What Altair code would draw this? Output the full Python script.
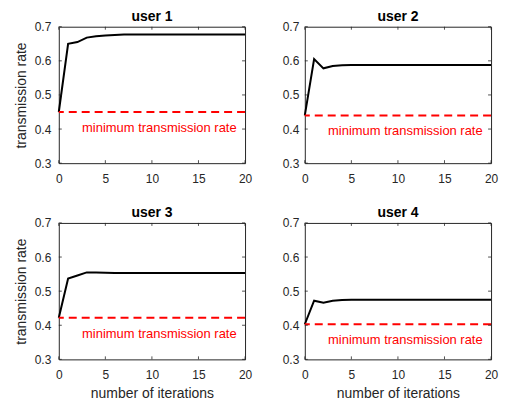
import altair as alt
import pandas as pd

iterations = list(range(0, 21))
user1 = [0.45, 0.650, 0.655, 0.668, 0.672, 0.674, 0.676, 0.677, 0.677, 0.677, 0.677,
         0.677, 0.677, 0.677, 0.677, 0.677, 0.677, 0.677, 0.677, 0.677, 0.677]
user2 = [0.44, 0.605, 0.578, 0.585, 0.587, 0.588, 0.588, 0.588, 0.588, 0.588, 0.588,
         0.588, 0.588, 0.588, 0.588, 0.588, 0.588, 0.588, 0.588, 0.588, 0.588]
user3 = [0.422, 0.537, 0.546, 0.555, 0.555, 0.554, 0.553, 0.553, 0.553, 0.553, 0.553,
         0.553, 0.553, 0.553, 0.553, 0.553, 0.553, 0.553, 0.553, 0.553, 0.553]
user4 = [0.403, 0.472, 0.466, 0.472, 0.474, 0.475, 0.475, 0.475, 0.475, 0.475, 0.475,
         0.475, 0.475, 0.475, 0.475, 0.475, 0.475, 0.475, 0.475, 0.475, 0.475]
min_rates = [0.45, 0.44, 0.422, 0.403]
titles = ["user 1", "user 2", "user 3", "user 4"]
x_ticks = [0, 5, 10, 15, 20]
y_ticks = [0.3, 0.4, 0.5, 0.6, 0.7]
label_text = "minimum transmission rate"

series = [user1, user2, user3, user4]
W, H = 187, 137
FONT = "Liberation Sans"
AX = "#262626"


def panel(i):
    df = pd.DataFrame({"x": iterations, "y": series[i]})
    xs = alt.Scale(domain=[0, 20], nice=False, zero=False)
    ys = alt.Scale(domain=[0.3, 0.7], nice=False, zero=False)
    show_ytitle = i in (0, 2)
    show_xtitle = i in (2, 3)
    xaxis = alt.Axis(values=x_ticks, grid=False, domain=False, ticks=False,
                     labelPadding=10, labelFlush=False, labelOverlap=False,
                     title="number of iterations" if show_xtitle else None,
                     titlePadding=6)
    yaxis = alt.Axis(values=y_ticks, grid=False, domain=False, ticks=False, format=".1f",
                     labelPadding=8 if show_ytitle else 6, labelFlush=False, labelOverlap=False,
                     title="transmission rate" if show_ytitle else None,
                     titlePadding=6)
    X = lambda f: alt.X(f, scale=xs, axis=xaxis)
    Y = lambda f: alt.Y(f, scale=ys, axis=yaxis)
    line = alt.Chart(df).mark_line(color="black", strokeWidth=2).encode(
        x=X("x:Q"), y=Y("y:Q"),
    )
    mdf = pd.DataFrame({"y": [min_rates[i]], "t": [label_text], "xl": [19.1]})
    rule = alt.Chart(mdf).mark_rule(color="#ff0000", strokeWidth=2, strokeDash=[8, 5]).encode(
        y=Y("y:Q"),
    )
    txt = alt.Chart(mdf).mark_text(color="#ff0000", align="right", baseline="middle",
                                   dy=16, fontSize=13, font=FONT).encode(
        x=X("xl:Q"), y=Y("y:Q"), text="t:N"
    )
    xt = pd.DataFrame({"v": x_ticks})
    yt = pd.DataFrame({"v": y_ticks})
    tb = alt.Chart(xt).mark_rule(color=AX, strokeWidth=0.8).encode(
        x=X("v:Q"), y=alt.value(H), y2=alt.value(H - 3))
    tt = alt.Chart(xt).mark_rule(color=AX, strokeWidth=0.8).encode(
        x=X("v:Q"), y=alt.value(0), y2=alt.value(3))
    tl = alt.Chart(yt).mark_rule(color=AX, strokeWidth=0.8).encode(
        y=Y("v:Q"), x=alt.value(0), x2=alt.value(3))
    tr = alt.Chart(yt).mark_rule(color=AX, strokeWidth=0.8).encode(
        y=Y("v:Q"), x=alt.value(W), x2=alt.value(W - 3))
    return alt.layer(line, rule, txt, tb, tt, tl, tr).properties(
        width=W, height=H,
        title=alt.TitleParams(titles[i], fontSize=14, fontWeight="bold", font=FONT,
                              color="black", offset=2, dy=5),
    )


row1 = alt.hconcat(panel(0), panel(1), spacing=28)
row2 = alt.hconcat(panel(2), panel(3), spacing=28)
chart = alt.vconcat(row1, row2, spacing=20).properties(
    padding={"left": 5, "top": 0, "right": 5, "bottom": 0}
).configure_view(stroke=AX, strokeWidth=1).configure_axis(
    labelFont=FONT, titleFont=FONT, labelFontSize=12, titleFontSize=14,
    labelColor=AX, titleColor=AX, titleFontWeight="normal"
)

chart.save("out.html", embed_options={"renderer": "svg", "actions": False})
